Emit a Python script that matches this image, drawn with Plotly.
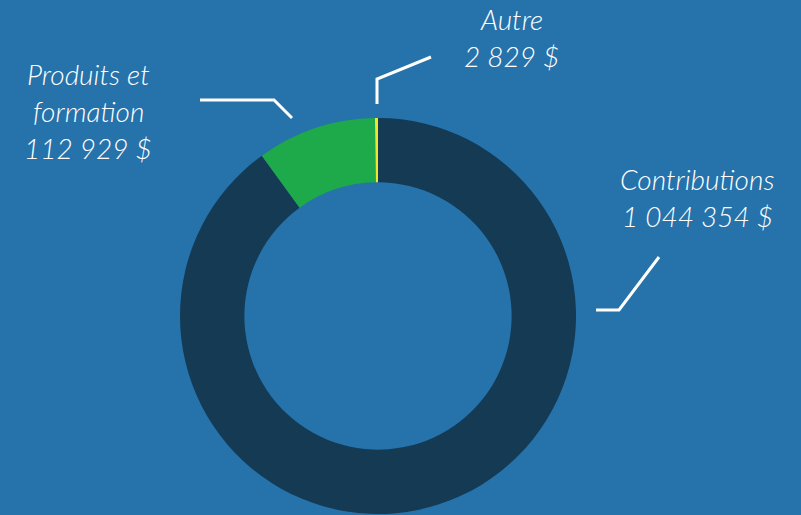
import plotly.graph_objects as go

categories = ["Contributions", "Produits et formation", "Autre"]
values = [1044354, 112929, 2829]
colors = ["#143a54", "#1ea94b", "#f0e62a"]
bg = "#2672ab"

W, H = 801, 515
cx, cy, R = 378, 316, 198


def fmt(v):
    return f"{v:,}".replace(",", " ") + " $"


fig = go.Figure()
fig.add_trace(go.Pie(
    labels=categories, values=values, sort=False, direction="clockwise", rotation=0,
    hole=0.675, textinfo="none", hoverinfo="label+value",
    marker=dict(colors=colors, line=dict(width=0)),
    domain=dict(x=[(cx - R) / W, (cx + R) / W], y=[1 - (cy + R) / H, 1 - (cy - R) / H]),
    showlegend=False,
))

# label text lines and positions
label_lines = [
    ["Contributions", fmt(values[0])],
    ["Produits et", "formation", fmt(values[1])],
    ["Autre", fmt(values[2])],
]
label_pos = [(697, 179), (88, 74), (511, 19)]
line_gap = 37

font = dict(family="Lato", size=28, color="white", style="italic", weight=300)
for lines, (lx, ly) in zip(label_lines, label_pos):
    for i, t in enumerate(lines):
        fig.add_annotation(x=lx, y=ly + i * line_gap, xref="x", yref="y", text=t,
                           showarrow=False, font=font, xanchor="center", yanchor="middle")

leaders = [
    [(596, 310), (619, 310), (659, 257)],
    [(200, 100), (274, 100), (292, 118)],
    [(377, 104), (377, 79), (431, 57)],
]
for pts in leaders:
    path = "M " + " L ".join(f"{x},{y}" for x, y in pts)
    fig.add_shape(type="path", path=path, xref="x", yref="y",
                  line=dict(color="white", width=3))

fig.update_layout(
    width=W, height=H, margin=dict(l=0, r=0, t=0, b=0),
    paper_bgcolor=bg, plot_bgcolor=bg,
    xaxis=dict(range=[0, W], visible=False, fixedrange=True),
    yaxis=dict(range=[H, 0], visible=False, fixedrange=True),
)

fig.write_html("out.html", config={"displayModeBar": False},
               post_script="document.body.style.margin='0';document.body.style.background='" + bg + "';")
